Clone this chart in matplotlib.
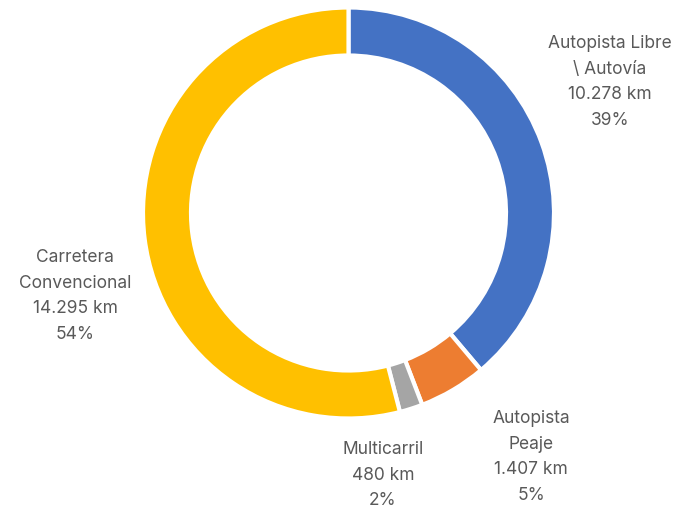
import matplotlib.pyplot as plt

# Road network length by type (km)
categories = ['Autopista Libre\n\\ Autovía', 'Autopista\nPeaje', 'Multicarril', 'Carretera\nConvencional']
km_values = [10278, 1407, 480, 14295]
km_labels = ['10.278 km', '1.407 km', '480 km', '14.295 km']
pct_labels = ['39%', '5%', '2%', '54%']
colors = ['#4472C4', '#ED7D31', '#A5A5A5', '#FFC000']

# label anchor (centre of text block, in pixels)
label_pos = [(610, 82), (531, 457), (383, 475), (75, 296)]

plt.rcParams['font.family'] = ['Inter', 'DejaVu Sans']

fig = plt.figure(figsize=(6.76, 5.13), dpi=100)
ax = fig.add_axes([0, 0, 1, 1])

# y axis runs downward, so counterclock here reads as clockwise on screen
ax.pie(km_values, colors=colors, startangle=-90, counterclock=True,
       center=(348.5, 213), radius=205.5,
       wedgeprops=dict(width=48, edgecolor='white', linewidth=3),
       frame=True)
ax.set_xlim(0, 676)
ax.set_ylim(513, 0)
ax.set_aspect('equal')
ax.axis('off')

for cat, km, pct, (x, y) in zip(categories, km_labels, pct_labels, label_pos):
    ax.text(x, y, f'{cat}\n{km}\n{pct}', ha='center', va='center',
            fontsize=12.5, color='#595959', linespacing=1.68)

fig.savefig('out.png', dpi=100)
